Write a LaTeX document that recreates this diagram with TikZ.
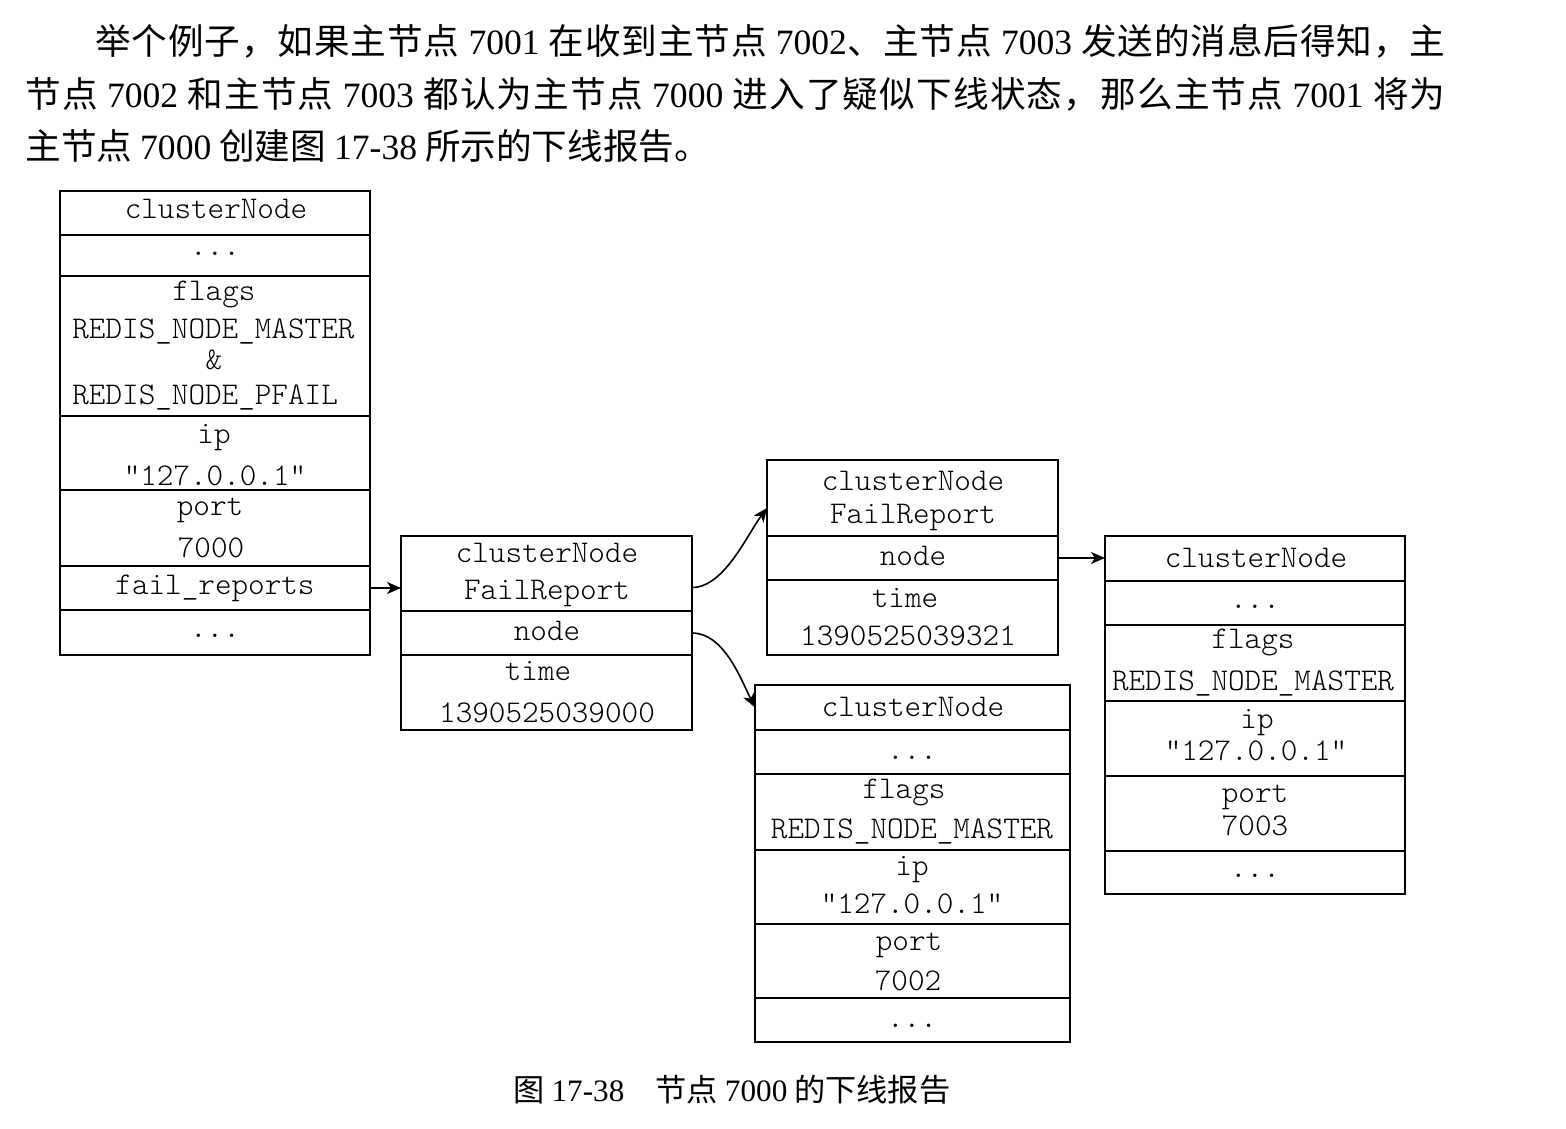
\documentclass[tikz,border=0pt]{standalone}
\usepackage{fontspec}
\setmainfont{Liberation Serif}
\newfontfamily\cjk{Noto Sans CJK SC}
\newfontfamily\mono{lmmonolt10-regular.otf}
\usetikzlibrary{arrows.meta,calc}
% inter-character glue for CJK justification
\makeatletter
\count@="4E00
\loop
  \XeTeXcharclass\count@=200
  \advance\count@ 1
\ifnum\count@<"A000 \repeat
\makeatother
\XeTeXcharclass"FF0C=200
\XeTeXcharclass"3001=200
\XeTeXcharclass"3002=200
\XeTeXinterchartoks 200 200 = {\hskip 0pt plus 0.1em\relax}
\XeTeXinterchartokenstate=1
\newcommand\dg[1]{{\rmfamily #1}}
\newcommand\mycell[5]{\node[cellbox, minimum width={(#4-#2)*0.5pt}, minimum height={(#5-#3)*0.5pt}] (#1) at ({(#2+#4)/2},{(#3+#5)/2}) {};}
\begin{document}
\begin{tikzpicture}[x=0.5pt,y=-0.5pt,
  cellbox/.style={draw, line width=1.3pt, inner sep=0pt, outer sep=0pt},
  txt/.style={anchor=base, inner sep=0pt, font=\mono\fontsize{15.8}{18}\selectfont},
  ltxt/.style={txt, anchor=base west},
  para/.style={anchor=base west, inner sep=0pt, font=\cjk\fontsize{17.8}{20}\selectfont},
  link/.style={line width=0.8pt, -{Stealth[length=7pt,width=6pt,inset=2pt]}},
]
\useasboundingbox (0,0) rectangle (1566,1128);
\fill[white] (0,0) rectangle (1566,1128);

% paragraph
\node[para] (l1) at (95,55) {\makebox[675pt][s]{举个例子，如果主节点 \dg{7001} 在收到主节点 \dg{7002}、主节点 \dg{7003} 发送的消息后得知，主}};
\node[para] (l2) at (25,108) {\makebox[710pt][s]{节点 \dg{7002} 和主节点 \dg{7003} 都认为主节点 \dg{7000} 进入了疑似下线状态，那么主节点 \dg{7001} 将为}};
\node[para] (l3) at (25,160) {主节点 \dg{7000} 创建图 \dg{17-38} 所示的下线报告。};

% box A
\mycell{a1}{60}{191}{370}{235}
\mycell{a2}{60}{235}{370}{276}
\mycell{a3}{60}{276}{370}{416}
\mycell{a4}{60}{416}{370}{490}
\mycell{a5}{60}{490}{370}{566}
\mycell{a6}{60}{566}{370}{610}
\mycell{a7}{60}{610}{370}{655}
\node[txt] (ta1) at (216,219) {clusterNode};
\node[txt] (ta2) at (215,256) {...};
\node[txt] (ta3) at (214,300) {flags};
\node[ltxt] (ta4) at (72,338) {REDIS\_NODE\_MASTER};
\node[txt] (ta5) at (214,369) {\&};
\node[ltxt] (ta6) at (72,404) {REDIS\_NODE\_PFAIL};
\node[txt] (ta7) at (214,443) {ip};
\node[txt] (ta8) at (215,485) {"127.0.0.1"};
\node[txt] (ta9) at (210,515) {port};
\node[txt] (ta10) at (211,557) {7000};
\node[txt] (ta11) at (215,594) {fail\_reports};
\node[txt] (ta12) at (215,637) {...};

% box B
\mycell{b1}{401}{536}{692}{611}
\mycell{b2}{401}{611}{692}{655}
\mycell{b3}{401}{655}{692}{730}
\node[txt] (tb1) at (547,562) {clusterNode};
\node[txt] (tb2) at (547,599) {FailReport};
\node[txt] (tb3) at (547,640) {node};
\node[txt] (tb4) at (538,680) {time};
\node[txt] (tb5) at (547,722) {1390525039000};

% box C
\mycell{c1}{767}{460}{1058}{536}
\mycell{c2}{767}{536}{1058}{580}
\mycell{c3}{767}{580}{1058}{655}
\node[txt] (tc1) at (913,490) {clusterNode};
\node[txt] (tc2) at (913,523) {FailReport};
\node[txt] (tc3) at (913,565) {node};
\node[txt] (tc4) at (905,607) {time};
\node[txt] (tc5) at (908,645) {1390525039321};

% box D
\mycell{d1}{755}{685}{1070}{730}
\mycell{d2}{755}{730}{1070}{774}
\mycell{d3}{755}{774}{1070}{850}
\mycell{d4}{755}{850}{1070}{924}
\mycell{d5}{755}{924}{1070}{998}
\mycell{d6}{755}{998}{1070}{1042}
\node[txt] (td1) at (913,716) {clusterNode};
\node[txt] (td2) at (912,759) {...};
\node[txt] (td3) at (904,798) {flags};
\node[txt] (td4) at (912,838) {REDIS\_NODE\_MASTER};
\node[txt] (td5) at (912,875) {ip};
\node[txt] (td6) at (912,913) {"127.0.0.1"};
\node[txt] (td7) at (909,950) {port};
\node[txt] (td8) at (908,990) {7002};
\node[txt] (td9) at (912,1027) {...};

% box E
\mycell{e1}{1105}{536}{1405}{581}
\mycell{e2}{1105}{581}{1405}{625}
\mycell{e3}{1105}{625}{1405}{701}
\mycell{e4}{1105}{701}{1405}{776}
\mycell{e5}{1105}{776}{1405}{851}
\mycell{e6}{1105}{851}{1405}{894}
\node[txt] (te1) at (1256,567) {clusterNode};
\node[txt] (te2) at (1255,608) {...};
\node[txt] (te3) at (1253,648) {flags};
\node[txt] (te4) at (1253,690) {REDIS\_NODE\_MASTER};
\node[txt] (te5) at (1257,728) {ip};
\node[txt] (te6) at (1256,760) {"127.0.0.1"};
\node[txt] (te7) at (1255,802) {port};
\node[txt] (te8) at (1255,835) {7003};
\node[txt] (te9) at (1255,877) {...};

% connectors
\draw[link] (a6.east) -- (a6.east -| b1.west);
\draw[link] ($(b1.east)+(0,14)$) .. controls +(32,0) and +(-20,27) .. ($(c1.west)+(0,10)$);
\draw[link] (b2.east) .. controls +(32,0) and +(-14,-28) .. (d1.west);
\draw[link] (c2.east) -- (c2.east -| e1.west);

% caption
\node[anchor=base west, inner sep=0pt, font=\cjk\fontsize{15.6}{18}\selectfont] (cap) at (513,1101) {图 \dg{17-38}\quad 节点 \dg{7000} 的下线报告};
\end{tikzpicture}
\end{document}
